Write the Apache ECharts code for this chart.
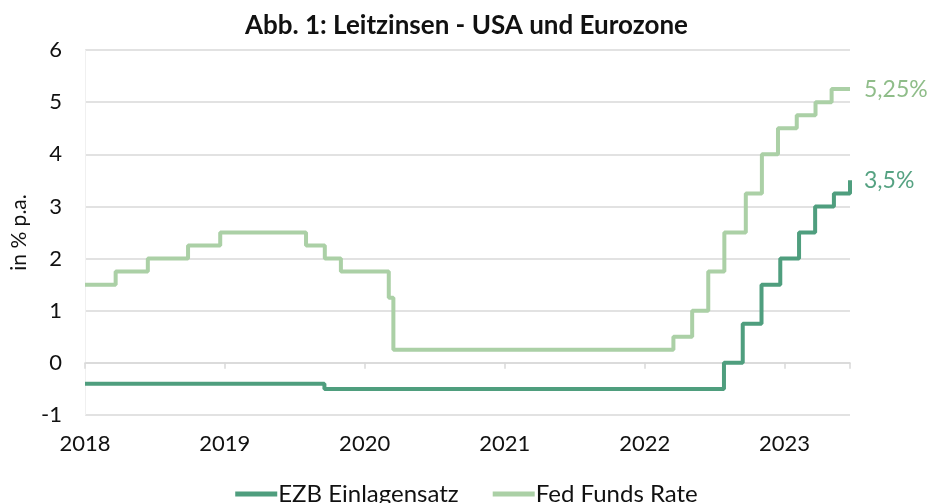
<!DOCTYPE html>
<html>
<head>
<meta charset="utf-8">
<script src="https://cdn.jsdelivr.net/npm/echarts@6/dist/echarts.min.js"></script>
<style>
  html, body { margin: 0; padding: 0; background: #fff; }
  #container { width: 933px; height: 503px; }
</style>
</head>
<body>
<div id="container"></div>
<script>
// Leitzinsen: Datum der Zinsänderung und neuer Satz
var fedDates = ['2018-01-01', '2018-03-22', '2018-06-14', '2018-09-27', '2018-12-20',
    '2019-08-01', '2019-09-19', '2019-10-31', '2020-03-04', '2020-03-16',
    '2022-03-17', '2022-05-05', '2022-06-16', '2022-07-28', '2022-09-22',
    '2022-11-03', '2022-12-15', '2023-02-02', '2023-03-23', '2023-05-04', '2023-06-21'];
var fedValues = [1.5, 1.75, 2.0, 2.25, 2.5, 2.25, 2.0, 1.75, 1.25, 0.25,
    0.5, 1.0, 1.75, 2.5, 3.25, 4.0, 4.5, 4.75, 5.0, 5.25, 5.25];

var ezbDates = ['2018-01-01', '2019-09-18', '2022-07-27', '2022-09-14', '2022-11-02',
    '2022-12-21', '2023-02-08', '2023-03-22', '2023-05-10', '2023-06-21'];
var ezbValues = [-0.4, -0.5, 0, 0.75, 1.5, 2.0, 2.5, 3.0, 3.25, 3.5];

var xMin = '2018-01-01';
var xMax = '2023-06-21';

function pairs(dates, values) {
    var out = [];
    for (var i = 0; i < dates.length; i++) {
        out.push([dates[i], values[i]]);
    }
    return out;
}

var dom = document.getElementById('container');
var myChart = echarts.init(dom);
var YEAR = 365 * 24 * 3600 * 1000;
var font = 'Lato, "DejaVu Sans", sans-serif';

var option = {
    animation: false,
    textStyle: { fontFamily: font },
    title: {
        text: 'Abb. 1: Leitzinsen - USA und Eurozone',
        left: 'center',
        top: 8,
        textStyle: { fontFamily: font, fontSize: 26, fontWeight: 'bold', color: '#111' }
    },
    grid: { left: 85, right: 83, top: 50, bottom: 88 },
    legend: {
        top: 477,
        left: 'center',
        itemWidth: 42,
        itemHeight: 5,
        itemGap: 34,
        icon: 'rect',
        textStyle: { fontFamily: font, fontSize: 24, color: '#111', padding: [0, 0, 0, -4] },
        data: ['EZB Einlagensatz', 'Fed Funds Rate']
    },
    xAxis: [{
        // Beschriftung unten
        type: 'time',
        min: xMin,
        max: xMax,
        minInterval: YEAR,
        maxInterval: YEAR,
        position: 'bottom',
        axisLine: { show: false, onZero: false },
        axisTick: { show: false },
        splitLine: { show: false },
        axisLabel: {
            formatter: '{yyyy}',
            fontFamily: font,
            fontSize: 22,
            color: '#111',
            margin: 18,
            showMaxLabel: false
        }
    }, {
        // Achsenlinie mit Ticks auf der Null
        type: 'time',
        min: xMin,
        max: xMax,
        minInterval: YEAR,
        maxInterval: YEAR,
        position: 'top',
        axisLine: { show: true, onZero: true, lineStyle: { color: '#d9d9d9', width: 1.5 } },
        axisTick: { show: true, inside: true, length: 6, lineStyle: { color: '#d9d9d9', width: 1.5 } },
        axisLabel: { show: false },
        splitLine: { show: false }
    }],
    yAxis: {
        type: 'value',
        min: -1,
        max: 6,
        interval: 1,
        name: 'in % p.a.',
        nameLocation: 'middle',
        nameGap: 48,
        nameTextStyle: { fontFamily: font, fontSize: 21, color: '#111' },
        axisLine: { show: true, lineStyle: { color: '#f0f0f0' } },
        axisTick: { show: false },
        axisLabel: { fontFamily: font, fontSize: 22, color: '#111', margin: 23 },
        splitLine: { lineStyle: { color: '#d9d9d9', width: 1.5 } }
    },
    series: [{
        name: 'EZB Einlagensatz',
        type: 'line',
        step: 'end',
        xAxisIndex: 0,
        symbol: 'none',
        data: pairs(ezbDates, ezbValues),
        itemStyle: { color: '#4f9e7e' },
        lineStyle: { color: '#4f9e7e', width: 4 },
        endLabel: {
            show: true,
            formatter: '3,5%',
            distance: 14,
            fontFamily: font,
            fontSize: 23,
            color: '#55a282'
        },
        z: 3
    }, {
        name: 'Fed Funds Rate',
        type: 'line',
        step: 'end',
        xAxisIndex: 0,
        symbol: 'none',
        data: pairs(fedDates, fedValues),
        itemStyle: { color: '#abd0a6' },
        lineStyle: { color: '#abd0a6', width: 4 },
        endLabel: {
            show: true,
            formatter: '5,25%',
            distance: 14,
            fontFamily: font,
            fontSize: 23,
            color: '#8fbd89'
        },
        z: 2
    }]
};

if (option && typeof option === 'object') {
    myChart.setOption(option, true);
}
</script>
</body>
</html>
